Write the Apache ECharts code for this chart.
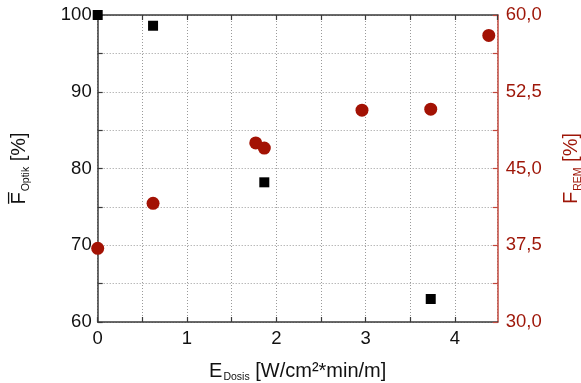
<!DOCTYPE html>
<html>
<head>
<meta charset="utf-8">
<script src="https://cdn.jsdelivr.net/npm/echarts@6/dist/echarts.min.js"></script>
<style>
  html, body { margin: 0; padding: 0; background: #fff; }
  #chart { width: 581px; height: 383px; }
</style>
</head>
<body>
<div id="chart"></div>
<script>
// Optical degree (left axis, %) vs. dose
const optikDose = [0, 0.62, 1.866, 3.73];
const optikValues = [100, 98.6, 78.2, 63.0];

// REM degree (right axis, %) vs. dose
const remDose = [0, 0.62, 1.77, 1.866, 2.96, 3.73, 4.38];
const remValues = [37.2, 41.6, 47.5, 47.0, 50.7, 50.8, 58.0];

const xTicks = [0, 1, 2, 3, 4];
const leftTicks = [60, 70, 80, 90, 100];
const rightTicks = [30, 37.5, 45, 52.5, 60];

const RED = '#9e1608';
const FONT = 'Liberation Sans';

const chart = echarts.init(document.getElementById('chart'), null, { renderer: 'canvas' });

const gridLine = { show: true, lineStyle: { color: '#9a9a9a', type: [1, 2], width: 1 } };
const axisLine = { show: true, onZero: false, lineStyle: { color: '#3a3a3a', width: 1.5 } };

function near(list, v) { return list.some(t => Math.abs(t - v) < 1e-6); }

// axis title with a subscript part
function titleRich(color) {
  return {
    m: { fontSize: 20, fontFamily: FONT, color: color },
    s: { fontSize: 10.5, fontFamily: FONT, color: color, padding: [13, 0, 0, 1] }
  };
}

chart.setOption({
  animation: false,
  textStyle: { fontFamily: FONT },
  grid: { left: 97.7, right: 83.3, top: 15, bottom: 61, containLabel: false, outerBoundsMode: 'none' },
  xAxis: [{
    type: 'value', min: 0, max: 4.48, interval: 0.5, position: 'bottom',
    axisLine: axisLine,
    axisTick: { show: true, inside: true, length: 5, lineStyle: { color: '#3a3a3a', width: 1.2 } },
    splitLine: gridLine,
    axisLabel: {
      color: '#111', fontSize: 18.5, fontFamily: FONT, margin: 7, showMaxLabel: false,
      formatter: v => near(xTicks, v) ? String(v) : ''
    },
    name: '{m|E}{s|Dosis}{m| [W/cm²*min/m]}',
    nameLocation: 'middle', nameGap: 37,
    nameTextStyle: { rich: titleRich('#111') }
  }, {
    type: 'value', min: 0, max: 4.48, interval: 0.5, position: 'top',
    axisLine: axisLine,
    axisTick: { show: true, inside: true, length: 5, lineStyle: { color: '#3a3a3a', width: 1.2 } },
    splitLine: { show: false },
    axisLabel: { show: false }
  }],
  yAxis: [{
    type: 'value', min: 60, max: 100, interval: 5, position: 'left',
    axisLine: axisLine,
    axisTick: { show: true, inside: true, length: 5, lineStyle: { color: '#3a3a3a', width: 1.2 } },
    splitLine: gridLine,
    axisLabel: {
      color: '#111', fontSize: 18.5, fontFamily: FONT, margin: 6,
      formatter: v => near(leftTicks, v) ? String(v) : ''
    },
    name: '{m|F\u0305}{s|Optik}{m| [%]}',
    nameLocation: 'middle', nameGap: 66, nameRotate: 90,
    nameTextStyle: { rich: titleRich('#111') }
  }, {
    type: 'value', min: 30, max: 60, interval: 3.75, position: 'right',
    axisLine: { show: true, onZero: false, lineStyle: { color: '#c0473c', width: 1.5 } },
    axisTick: { show: true, inside: true, length: 5, lineStyle: { color: '#c0473c', width: 1.2 } },
    splitLine: { show: false },
    axisLabel: {
      color: RED, fontSize: 18.5, fontFamily: FONT, margin: 8,
      formatter: v => near(rightTicks, v) ? v.toFixed(1).replace('.', ',') : ''
    },
    name: '{m|F}{s|REM}{m| [%]}',
    nameLocation: 'middle', nameGap: 62, nameRotate: 90,
    nameTextStyle: { rich: titleRich(RED) }
  }],
  series: [{
    type: 'scatter', xAxisIndex: 0, yAxisIndex: 1,
    data: remDose.map((x, i) => [x, remValues[i]]),
    symbol: 'circle', symbolSize: 13, clip: false,
    itemStyle: { color: '#a31204', opacity: 1 }
  }, {
    type: 'scatter', xAxisIndex: 0, yAxisIndex: 0,
    data: optikDose.map((x, i) => [x, optikValues[i]]),
    symbol: 'rect', symbolSize: 10, clip: false,
    itemStyle: { color: '#000', opacity: 1 }
  }]
});
</script>
</body>
</html>
